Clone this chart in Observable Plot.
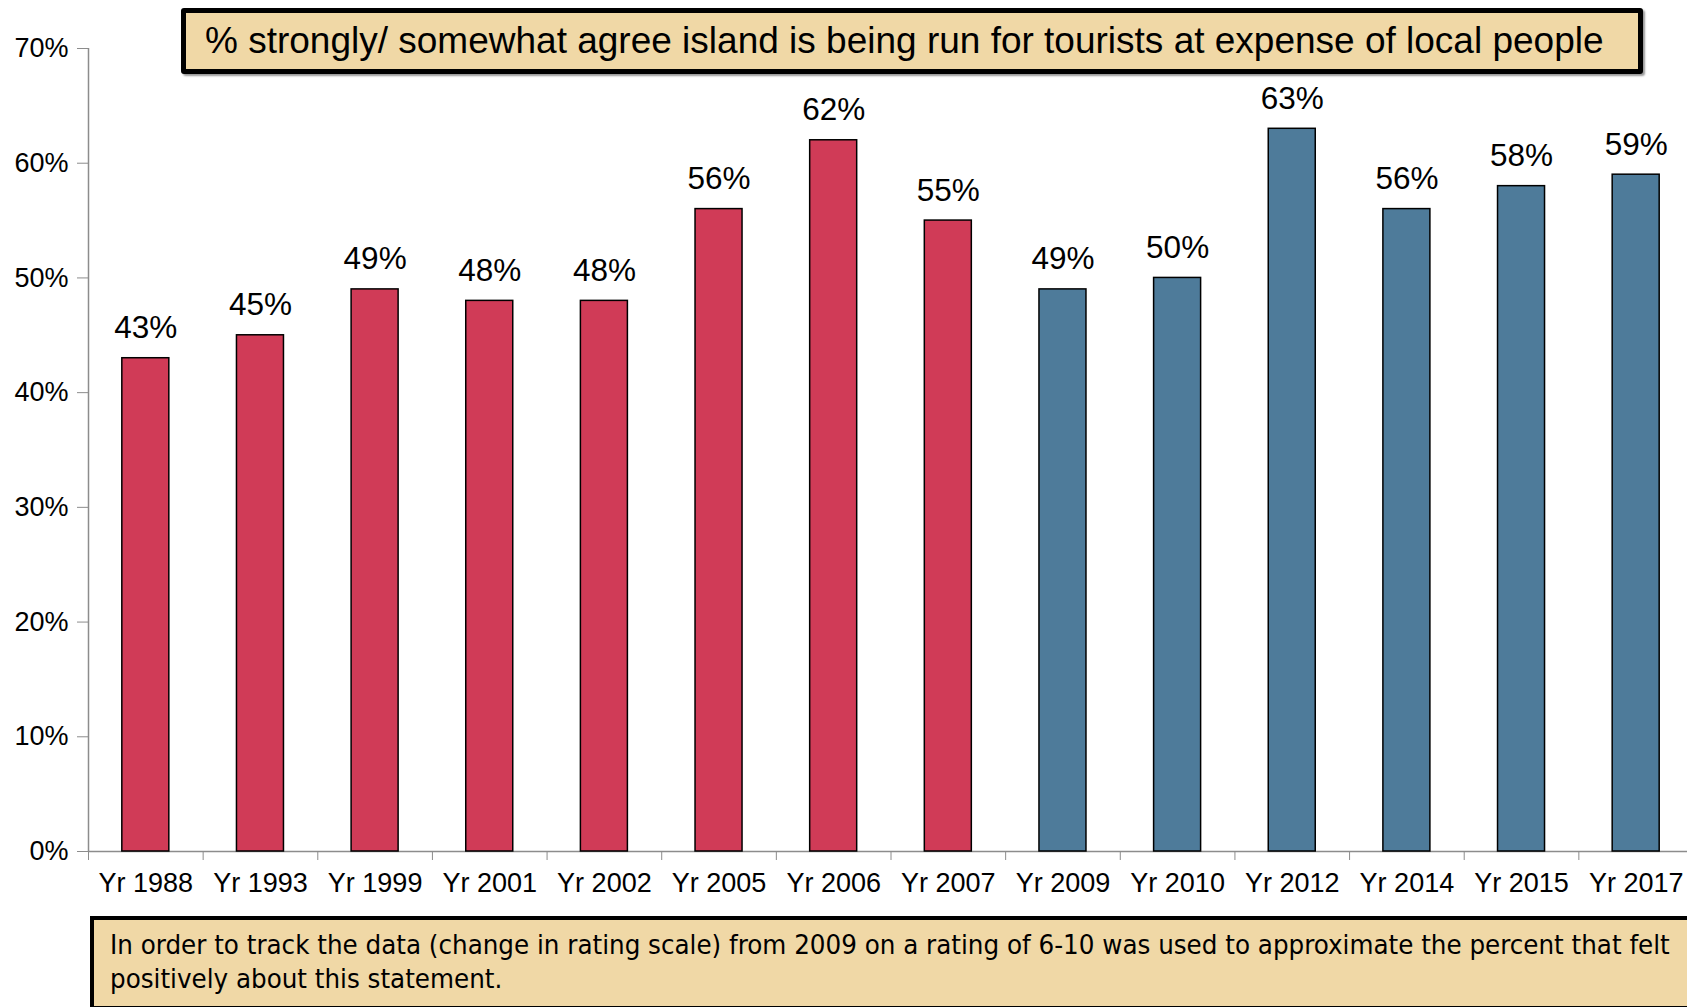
<!DOCTYPE html>
<html>
<head>
<meta charset="utf-8">
<script src="https://cdn.jsdelivr.net/npm/d3@7"></script>
<script src="https://cdn.jsdelivr.net/npm/@observablehq/plot@0.6"></script>
<style>
  html, body { margin: 0; padding: 0; background: #fff; overflow: hidden; width: 1687px; height: 1007px; }
  #wrap { position: relative; width: 1687px; height: 1007px; overflow: hidden; }
  #chart svg { display: block; max-width: none !important; }
  #title {
    position: absolute; left: 181px; top: 8px; width: 1462px; height: 66px; box-sizing: border-box;
    border: 5px solid #000; border-radius: 3px; background: #F0D8A6;
    box-shadow: 2px 2px 2px #999;
    font-family: "Liberation Sans", Arial, sans-serif; font-size: 37px; line-height: 55px;
    padding-left: 19px; white-space: nowrap; color: #000;
  }
  #note {
    position: absolute; left: 90px; top: 916px; width: 1620px; height: 94px; box-sizing: border-box;
    border: 4px solid #000; background: #F0D8A6;
    font-family: "Liberation Sans Narrow", "DejaVu Sans Condensed", "Roboto", sans-serif; font-stretch: condensed;
    font-size: 27.4px; line-height: 34px; padding: 8px 16px; color: #000;
  }
</style>
</head>
<body>
<div id="wrap">
  <div id="chart"></div>
  <div id="title">% strongly/ somewhat agree island is being run for tourists at expense of local people</div>
  <div id="note">In order to track the data (change in rating scale) from 2009 on a rating of 6-10 was used to approximate the percent that felt positively about this statement.</div>
</div>
<script>
const years = ["Yr 1988", "Yr 1993", "Yr 1999", "Yr 2001", "Yr 2002", "Yr 2005", "Yr 2006", "Yr 2007",
               "Yr 2009", "Yr 2010", "Yr 2012", "Yr 2014", "Yr 2015", "Yr 2017"];
const values = [43, 45, 49, 48, 48, 56, 62, 55, 49, 50, 63, 56, 58, 59];
const scaleType = ["old", "old", "old", "old", "old", "old", "old", "old",
                   "new", "new", "new", "new", "new", "new"];
const yTicks = [0, 10, 20, 30, 40, 50, 60, 70];

const data = years.map((year, i) => ({year, value: values[i], scale: scaleType[i]}));

const W = 1693, ML = 88;
const step = (W - ML) / years.length;

const chart = Plot.plot({
  width: W,
  height: 905,
  marginTop: 48,
  marginBottom: 54,
  marginLeft: ML,
  marginRight: 0,
  style: {fontFamily: "'Liberation Sans', Arial, sans-serif", fontSize: "27px", color: "#000", background: "transparent", overflow: "visible", maxWidth: "none"},
  x: {domain: years, paddingInner: 0.59, paddingOuter: 0.295, round: false, label: null, axis: null},
  y: {domain: [0, 70], label: null, axis: null},
  color: {domain: ["old", "new"], range: ["#D03B57", "#4E7B9A"]},
  marks: [
    Plot.ruleY([0], {stroke: "#8c8c8c", strokeWidth: 1.5}),
    Plot.ruleX([years[0]], {dx: -step / 2, y1: 0, y2: 70, stroke: "#8c8c8c", strokeWidth: 1.5}),
    Plot.axisY({ticks: yTicks, tickFormat: d => d + "%", tickSize: 11, tickPadding: 9, stroke: "#8c8c8c", fill: "#000", fontSize: 27}),
    Plot.axisX({ticks: years, tickSize: 9, tickFormat: () => "", dx: -step / 2, stroke: "#8c8c8c"}),
    Plot.axisX({ticks: years, tickSize: 0, tickPadding: 21, fill: "#000", fontSize: 27}),
    Plot.barY(data, {x: "year", y: "value", fill: "scale", stroke: "#000", strokeWidth: 1.5}),
    Plot.text(data, {x: "year", y: "value", text: d => d.value + "%", lineAnchor: "bottom", dy: -20, fontSize: 31.5, fill: "#000"})
  ]
});
document.getElementById("chart").appendChild(chart);
</script>
</body>
</html>
